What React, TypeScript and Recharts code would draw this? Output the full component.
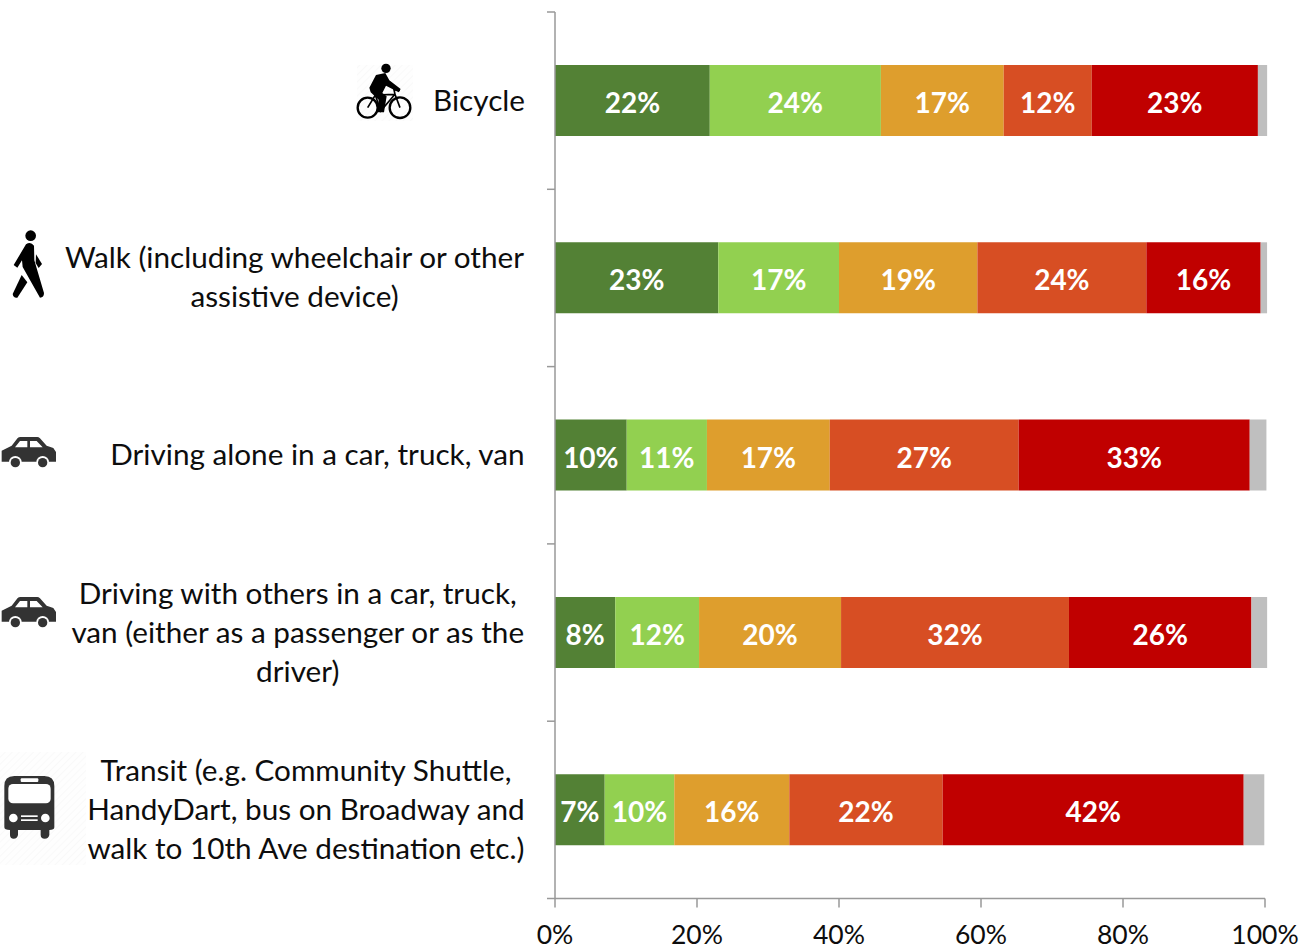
import React from "react";
import { BarChart, Bar, XAxis, YAxis, LabelList } from "recharts";

const categories = [
  "Bicycle",
  "Walk (including wheelchair or other\nassistive device)",
  "Driving alone in a car, truck, van",
  "Driving with others in a car, truck,\nvan (either as a passenger or as the\ndriver)",
  "Transit (e.g. Community Shuttle,\nHandyDart, bus on Broadway and\nwalk to 10th Ave destination etc.)",
];
const veryGood = [21.8, 23.0, 10.1, 8.49, 7.0];
const good = [24.1, 17.0, 11.3, 11.8, 9.8];
const fair = [17.3, 19.49, 17.3, 20.0, 16.2];
const poor = [12.4, 23.8, 26.6, 32.1, 21.6];
const veryPoor = [23.4, 16.1, 32.55, 25.7, 42.4];
const unknown = [1.3, 0.9, 2.35, 2.21, 2.9];
const xTicks = [0, 20, 40, 60, 80, 100];

const seriesKeys = ["veryGood", "good", "fair", "poor", "veryPoor", "unknown"];
const seriesColors = ["#538135", "#92D050", "#DE9E2D", "#D74E23", "#C00000", "#BFBFBF"];

const data = categories.map((name, i) => ({
  name,
  veryGood: veryGood[i],
  good: good[i],
  fair: fair[i],
  poor: poor[i],
  veryPoor: veryPoor[i],
  unknown: unknown[i],
}));

const FONT = "Lato, Carlito, sans-serif";
const AXIS = "#999999";
const LABEL_SIZE = 29.7;
const VALUE_TICK_SIZE = 26.5;
const DATA_LABEL_SIZE = 28;
const LEFT = 555;
const TOP = 12;
const BOTTOM_Y = 898.5;
const BAND = (BOTTOM_Y - TOP) / categories.length;
const X_STEP = 142;

const measure = (() => {
  let ctx: CanvasRenderingContext2D | null = null;
  return (s: string) => {
    if (!ctx) {
      ctx = document.createElement("canvas").getContext("2d");
      if (ctx) ctx.font = `${LABEL_SIZE}px ${FONT}`;
    }
    return ctx ? ctx.measureText(s).width : s.length * 13;
  };
})();

function Bike() {
  return (
    <g>
      <rect x={357} y={65} width={56} height={56} fill="url(#hatch)" />
      <g transform="translate(350 55) scale(0.3333)">
        <circle cx={53} cy={158} r={30} fill="none" stroke="#000" strokeWidth={7} />
        <circle cx={150} cy={158} r={31} fill="none" stroke="#000" strokeWidth={7} />
        <circle cx={108} cy={40} r={14} fill="#000" />
        <path d="M78 60 L106 54 L118 76 L152 102 L146 112 L108 92 L97 114 L110 124 L102 172 L82 172 L86 134 L62 112 L58 98 Z" fill="#000" />
        <path d="M53 158 L76 120 L135 118 L150 158 M76 120 L92 168 L135 118 M135 118 L132 104 L150 106" fill="none" stroke="#000" strokeWidth={5} />
      </g>
    </g>
  );
}

function Walker() {
  return (
    <g transform="translate(0 225) scale(0.3333)" fill="#000">
      <circle cx={92} cy={32} r={16} />
      <path d="M78 58 Q92 48 102 62 L103 106 L132 204 Q132 218 120 218 L68 126 L66 106 L52 128 L41 120 Z" />
      <path d="M108 88 L126 117 L116 129 L107 114 Z" />
      <path d="M65 150 L82 172 L52 218 Q40 220 38 207 Z" />
    </g>
  );
}

function Car({ y }: { y: number }) {
  return (
    <g transform={`translate(0 ${y}) scale(0.3333)`} fill="#333333">
      <path
        d="M5 62 L35 47 L53 24 Q56 21 62 21 L112 21 Q116 21 120 25 L140 47 L160 54 L168 66 L168 95 L5 95 Z M60 33 L82 33 L82 52 L45 52 Z M90 33 L110 33 L128 52 L90 52 Z"
        fillRule="evenodd"
      />
      <circle cx={46} cy={97} r={19} fill="#fff" />
      <circle cx={128} cy={97} r={19} fill="#fff" />
      <circle cx={46} cy={98} r={14} />
      <circle cx={128} cy={98} r={14} />
    </g>
  );
}

function Bus() {
  return (
    <g>
      <rect x={0} y={752} width={86} height={113} fill="url(#hatch)" />
      <g transform="translate(0 750) scale(0.3333)">
        <path
          d="M43 78 L133 78 Q163 78 163 108 L163 232 Q163 240 148 240 L148 255 Q146 266 134 266 Q122 266 122 255 L122 240 L54 240 L54 255 Q52 266 41 266 Q30 266 30 255 L30 240 Q13 240 13 232 L13 108 Q13 78 43 78 Z"
          fill="#333333"
        />
        <rect x={62} y={85} width={53} height={11} rx={3} fill="#fff" />
        <rect x={25} y={102} width={127} height={58} rx={14} fill="#fff" />
        <circle cx={40} cy={204} r={13} fill="#fff" />
        <circle cx={136} cy={204} r={13} fill="#fff" />
        <rect x={63} y={196} width={50} height={5} fill="#fff" />
        <rect x={63} y={208} width={50} height={5} fill="#fff" />
      </g>
    </g>
  );
}

function Icon({ index }: { index: number }) {
  if (index === 0) return <Bike />;
  if (index === 1) return <Walker />;
  if (index === 2) return <Car y={430} />;
  if (index === 3) return <Car y={590} />;
  return <Bus />;
}

function CategoryTick(props: any) {
  const { y, payload, index } = props;
  const lines = String(payload.value).split("\n");
  const right = 525;
  const blockW = Math.max(...lines.map(measure));
  const cx = right - blockW / 2;
  const lh = 39;
  const first = y - ((lines.length - 1) * lh) / 2;
  const top = y - BAND / 2;
  return (
    <g>
      <defs>
        <pattern id="hatch" width="5" height="5" patternUnits="userSpaceOnUse" patternTransform="rotate(-45)">
          <rect width="5" height="5" fill="#FEFEFE" />
          <line x1="0" y1="0" x2="5" y2="0" stroke="#F5F5F5" strokeWidth={1} />
        </pattern>
      </defs>
      <Icon index={index} />
      <line x1={LEFT - 8} x2={LEFT} y1={top} y2={top} stroke={AXIS} strokeWidth={1.5} />
      {index === categories.length - 1 && (
        <line x1={LEFT - 8} x2={LEFT} y1={y + BAND / 2} y2={y + BAND / 2} stroke={AXIS} strokeWidth={1.5} />
      )}
      {lines.map((l, i) => (
        <text key={i} x={cx} y={first + i * lh} dy={10} textAnchor="middle" fontFamily={FONT} fontSize={LABEL_SIZE} fill="#0D0D0D">
          {l}
        </text>
      ))}
    </g>
  );
}

function ValueTick(props: any) {
  const { x, y, payload } = props;
  return (
    <g>
      {payload.value > 0 && <line x1={x - X_STEP} x2={x} y1={y} y2={y} stroke={AXIS} strokeWidth={1.5} />}
      <line x1={x} x2={x} y1={y} y2={y + 9} stroke={AXIS} strokeWidth={1.5} />
      <text x={x} y={y + 45} textAnchor="middle" fontFamily={FONT} fontSize={VALUE_TICK_SIZE} fill="#0D0D0D">
        {payload.value}%
      </text>
    </g>
  );
}

export default function App() {
  return (
    <div style={{ position: "absolute", left: 0, top: 0, width: 1308, height: 949, background: "#fff" }}>
      <BarChart
        width={1308}
        height={949}
        data={data}
        layout="vertical"
        margin={{ top: TOP, left: 0, right: 40.87, bottom: 949 - BOTTOM_Y - 50 }}
        barSize={71}
      >
        <XAxis
          type="number"
          domain={[0, 100.3]}
          ticks={xTicks}
          interval={0}
          height={50}
          axisLine={false}
          tickLine={false}
          tickSize={0}
          tickMargin={0}
          tick={<ValueTick />}
        />
        <YAxis
          type="category"
          dataKey="name"
          width={LEFT}
          interval={0}
          axisLine={{ stroke: AXIS, strokeWidth: 1.5 }}
          tickLine={false}
          tick={<CategoryTick />}
        />
        {seriesKeys.map((k, i) => (
          <Bar key={k} dataKey={k} stackId="a" fill={seriesColors[i]} isAnimationActive={false}>
            {k !== "unknown" && (
              <LabelList
                dataKey={k}
                position="center"
                formatter={(v: any) => `${Math.round(v)}%`}
                fill="#FFFFFF"
                fontFamily={FONT}
                fontSize={DATA_LABEL_SIZE}
                fontWeight={700}
                dy={2.5}
              />
            )}
          </Bar>
        ))}
      </BarChart>
    </div>
  );
}
